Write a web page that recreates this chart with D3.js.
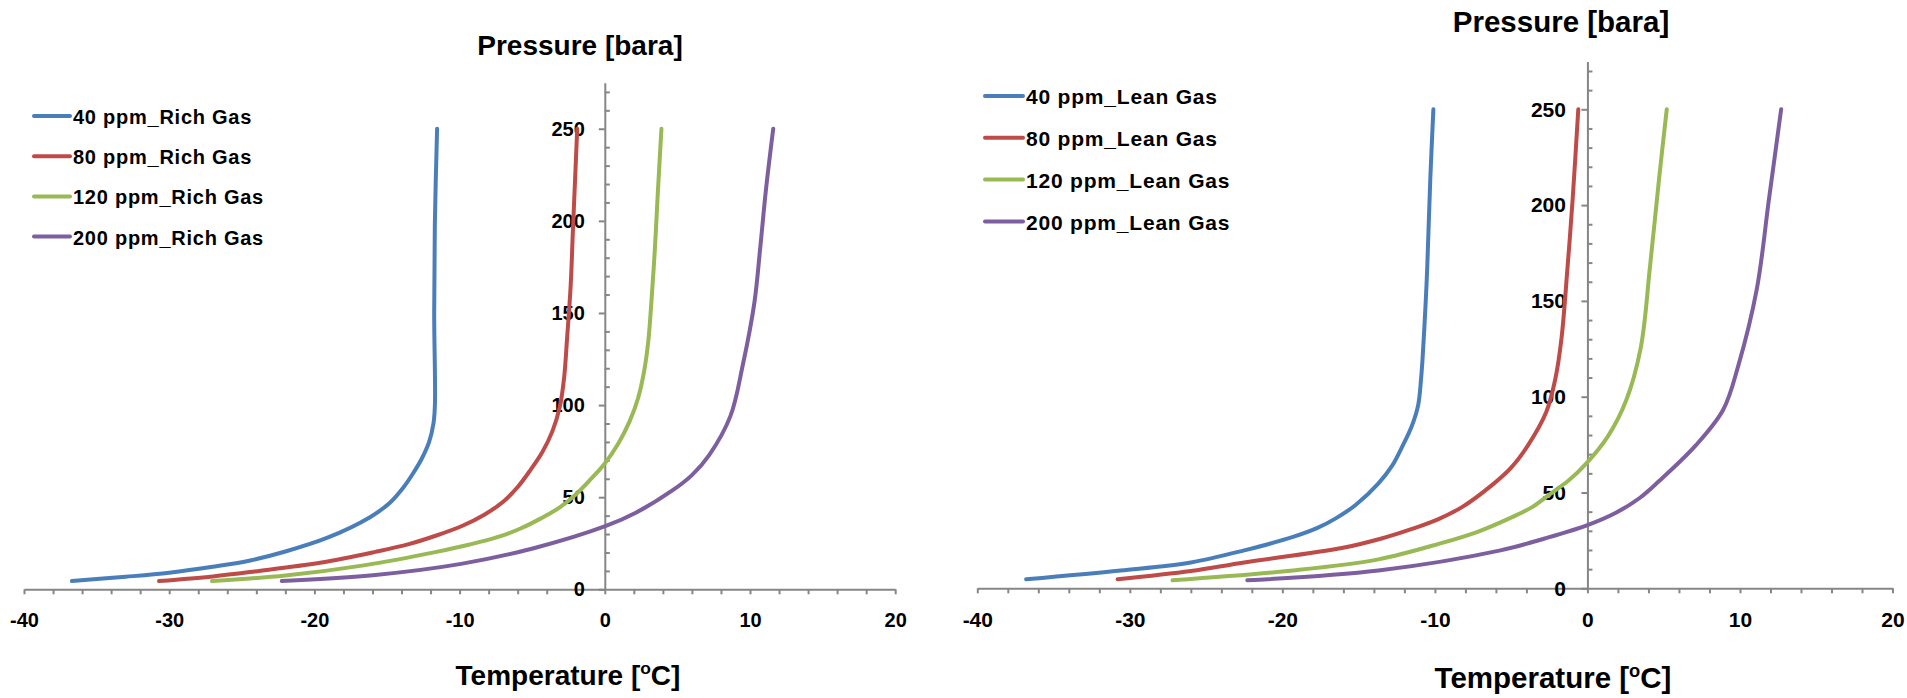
<!DOCTYPE html>
<html lang="en">
<head>
    <meta charset="UTF-8">
    <title>Hydrate curves - Rich Gas / Lean Gas</title>
    <script src="https://d3js.org/d3.v7.min.js"></script>
    <style>
        body {
            margin: 0;
            padding: 0;
            background: #fff;
            font-family: "Liberation Sans", Arial, sans-serif;
        }
        svg text {
            font-weight: bold;
            fill: #000;
        }
    </style>
</head>
<body>
    <svg width="1907" height="698"></svg>
    <script>
        // tick labels
        const tempTicks = [-40, -30, -20, -10, 0, 10, 20];
        const pressTicks = [0, 50, 100, 150, 200, 250];

        // legend names
        const richNames = ["40 ppm_Rich Gas", "80 ppm_Rich Gas", "120 ppm_Rich Gas", "200 ppm_Rich Gas"];
        const leanNames = ["40 ppm_Lean Gas", "80 ppm_Lean Gas", "120 ppm_Lean Gas", "200 ppm_Lean Gas"];
        const seriesColors = ["#4A7EBB", "#BE4B48", "#98B954", "#7D5FA0"];

        // [temperature degC, pressure bara]
        const rich40 = [[-36.7,4.5],[-33,6.8],[-30,9],[-27,12.2],[-24.5,15.5],[-22,20.5],[-19.1,28],[-16.2,39],[-14.8,47],[-13.9,55],[-13.2,63],[-12.6,71],[-12.1,80],[-11.8,90],[-11.7,100],[-11.75,150],[-11.7,200],[-11.55,250]];
        const rich80 = [[-30.7,4.5],[-27,7],[-24.1,9.7],[-19.5,14.5],[-15.8,20.3],[-13.5,24.5],[-11.6,29.2],[-9.8,34.5],[-8.3,40.5],[-7,47.5],[-6,55.5],[-5.1,65],[-4.3,74.5],[-3.6,86],[-3.1,99],[-2.8,115],[-2.6,136],[-2.35,165],[-2.2,194],[-2.05,222],[-1.9,250]];
        const rich120 = [[-27.05,4.5],[-22,7.5],[-16.6,13],[-11.6,20.3],[-9.3,24.3],[-7.4,28.3],[-5.8,33],[-4.4,38.5],[-3.1,44.5],[-2,51.5],[-1,59.5],[0,68.3],[0.92,79],[1.7,91],[2.3,104],[2.7,118],[3,135],[3.2,155],[3.45,185],[3.65,215],[3.9,250]];
        const rich200 = [[-22.25,4.5],[-15.8,7.8],[-9.9,13.8],[-4.9,22.3],[0.08,34.4],[2.17,41.7],[4.68,53.8],[6,62],[7.2,73],[8.65,94],[9.5,121.6],[10.3,155.5],[10.7,185],[11.1,217],[11.6,250]];

        const lean40 = [[-36.8,4.7],[-30.6,9.3],[-26,13.5],[-22.5,19.8],[-19.3,26.8],[-17.7,31.5],[-16.5,36.5],[-15.2,43.5],[-13.7,54.8],[-12.8,64],[-12.1,74.6],[-11.5,85],[-11.1,95.5],[-10.9,110],[-10.8,121],[-10.6,150],[-10.5,168],[-10.3,214],[-10.1,250]];
        const lean80 = [[-30.8,4.7],[-26,9],[-22.5,13.5],[-16.1,21],[-13.5,26],[-11.5,31],[-9.8,36],[-8.2,42.5],[-6.3,53.6],[-5,63],[-3.9,74.6],[-2.7,92],[-2.1,109.5],[-1.7,130.5],[-1.3,168],[-0.97,203],[-0.6,250]];
        const lean120 = [[-27.2,4.2],[-19.3,9.3],[-13.7,15.1],[-9.7,23.3],[-7.2,29.5],[-4.9,37.3],[-3.6,42.5],[-2.5,48.9],[-1.2,56.5],[-0.07,65.2],[1.33,79.2],[2.53,97.9],[3.5,125.8],[4.1,167.8],[4.7,214],[5.2,250]];
        const lean200 = [[-22.3,4.2],[-13.7,9.3],[-5.7,19.8],[-2.8,26],[0,33],[1.9,39.6],[3.4,47],[4.7,56],[7.1,74.6],[8.9,93.2],[9.9,116.5],[11.1,156],[11.9,203],[12.7,250]];

        const svg = d3.select("svg");

        function drawChart(opt) {
            const x = d3.scaleLinear().domain([-40, 20]).range([opt.left, opt.right]);
            const y = d3.scaleLinear().domain([0, 275]).range([opt.bottom, opt.top]);
            const g = svg.append("g");

            // x axis: ticks every 2, labels every 10
            const xAxis = g.append("g")
                .attr("transform", `translate(0,${y(0)})`)
                .call(d3.axisBottom(x)
                    .tickValues(d3.range(-40, 21, 2))
                    .tickSize(5)
                    .tickSizeOuter(0)
                    .tickFormat(d => tempTicks.includes(d) ? String(d) : ""));
            xAxis.selectAll("text")
                .attr("y", 31)
                .attr("dy", "0.35em")
                .style("font-size", opt.tickFont + "px");

            // y axis: major ticks outside, minor inside
            const yAxis = g.append("g")
                .attr("transform", `translate(${x(0)},0)`)
                .call(d3.axisLeft(y)
                    .tickValues(pressTicks)
                    .tickSize(6)
                    .tickSizeOuter(0)
                    .tickPadding(opt.yPad)
                    .tickFormat(d => String(d)));
            yAxis.selectAll("text")
                .style("font-size", opt.tickFont + "px");

            g.append("g")
                .attr("transform", `translate(${x(0)},0)`)
                .call(d3.axisRight(y)
                    .tickValues(d3.range(10, 275, 10).filter(d => d % 50 !== 0))
                    .tickSize(5)
                    .tickSizeOuter(0)
                    .tickFormat(""))
                .select(".domain").remove();

            g.selectAll(".domain, .tick line")
                .attr("stroke", "#868686")
                .attr("stroke-width", 2);

            // curves
            const line = d3.line()
                .x(d => x(d[0]))
                .y(d => y(d[1]))
                .curve(d3.curveCatmullRom.alpha(0.5));

            g.selectAll("path.curve")
                .data(opt.series)
                .join("path")
                .attr("class", "curve")
                .attr("d", line)
                .attr("fill", "none")
                .attr("stroke", (d, i) => seriesColors[i])
                .attr("stroke-width", 4)
                .attr("stroke-linecap", "round");

            // legend
            const leg = g.selectAll("g.leg")
                .data(opt.names)
                .join("g")
                .attr("class", "leg")
                .attr("transform", (d, i) => `translate(${opt.legX},${opt.legY + i * opt.legStep})`);
            leg.append("line")
                .attr("x1", 0).attr("x2", opt.legLen)
                .attr("y1", 0).attr("y2", 0)
                .attr("stroke", (d, i) => seriesColors[i])
                .attr("stroke-width", 4)
                .attr("stroke-linecap", "round");
            leg.append("text")
                .attr("x", opt.legLen + 3)
                .attr("y", 0)
                .attr("dy", "0.4em")
                .style("font-size", opt.legFont + "px")
                .style("letter-spacing", opt.legSpacing + "px")
                .text(d => d);

            // axis titles
            g.append("text")
                .attr("x", opt.yTitleX)
                .attr("y", opt.yTitleY)
                .attr("text-anchor", "middle")
                .style("font-size", opt.titleFont + "px")
                .text("Pressure [bara]");

            const xt = g.append("text")
                .attr("x", opt.xTitleX)
                .attr("y", opt.xTitleY)
                .attr("text-anchor", "middle")
                .style("font-size", opt.titleFont + "px");
            xt.append("tspan").text("Temperature [");
            xt.append("tspan")
                .attr("dy", -opt.titleFont * 0.38)
                .style("font-size", (opt.titleFont * 0.62) + "px")
                .text("o");
            xt.append("tspan")
                .attr("dy", opt.titleFont * 0.38)
                .text("C]");
        }

        drawChart({
            left: 24, right: 895.2, top: 82.7, bottom: 589.3,
            series: [rich40, rich80, rich120, rich200],
            names: richNames,
            tickFont: 20, yPad: 14,
            legX: 34, legY: 116, legStep: 40.2, legLen: 36,
            legFont: 20, legSpacing: 0.75,
            titleFont: 28,
            yTitleX: 580, yTitleY: 55,
            xTitleX: 568, xTitleY: 685
        });

        drawChart({
            left: 977.3, right: 1892.5, top: 61.4, bottom: 588.3,
            series: [lean40, lean80, lean120, lean200],
            names: leanNames,
            tickFont: 21, yPad: 15.5,
            legX: 985, legY: 96, legStep: 41.8, legLen: 38,
            legFont: 21, legSpacing: 0.8,
            titleFont: 29.5,
            yTitleX: 1561, yTitleY: 32,
            xTitleX: 1553, xTitleY: 688
        });
    </script>
</body>
</html>
